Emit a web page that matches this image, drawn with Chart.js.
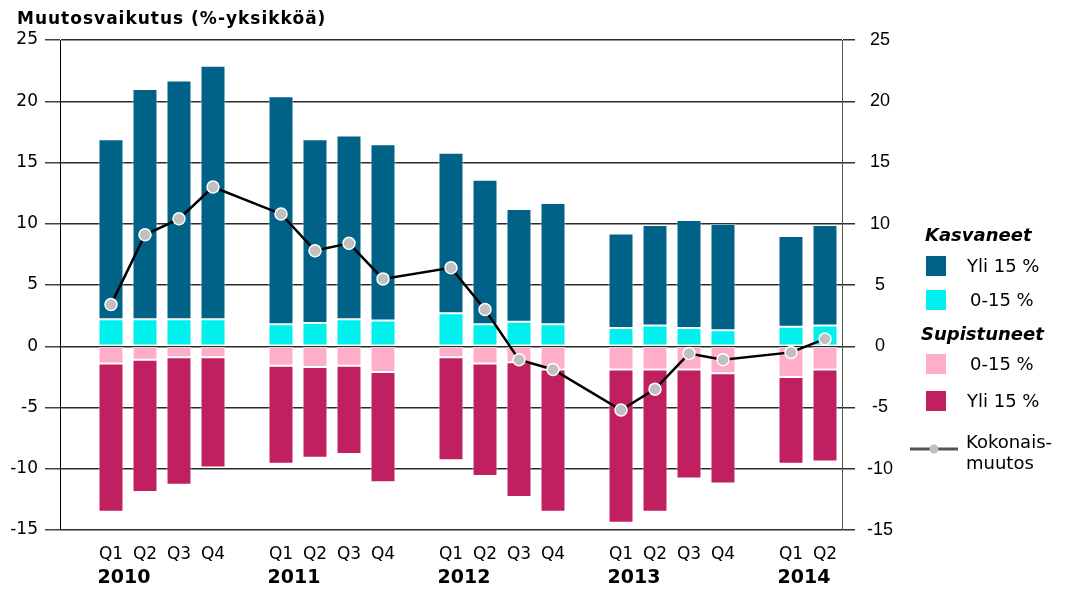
<!DOCTYPE html>
<html>
<head>
<meta charset="utf-8">
<script src="https://cdn.jsdelivr.net/npm/chart.js@4.4.0/dist/chart.umd.min.js"></script>
<style>
  html, body { margin: 0; padding: 0; background: #fff; }
</style>
</head>
<body>
<canvas id="chart" width="1067" height="590"></canvas>
<script>
// categories (empty slots are the gaps between years)
const quarters = ['', 'Q1', 'Q2', 'Q3', 'Q4', '', 'Q1', 'Q2', 'Q3', 'Q4', '', 'Q1', 'Q2', 'Q3', 'Q4', '', 'Q1', 'Q2', 'Q3', 'Q4', '', 'Q1', 'Q2']
const years = ['2010', '2011', '2012', '2013', '2014']

// Kasvaneet
const growOver15 = [null, 14.7, 18.8, 19.5, 20.7, null, 18.6, 15.0, 15.0, 14.4, null, 13.1, 11.8, 9.2, 9.9, null, 7.7, 8.2, 8.8, 8.7, null, 7.4, 8.2]
const growUnder15 = [null, 2.2, 2.2, 2.2, 2.2, null, 1.8, 1.9, 2.2, 2.1, null, 2.7, 1.8, 2.0, 1.8, null, 1.5, 1.7, 1.5, 1.3, null, 1.6, 1.7]
// Supistuneet
const shrinkUnder15 = [null, -1.4, -1.1, -0.9, -0.9, null, -1.6, -1.7, -1.6, -2.1, null, -0.9, -1.4, -1.3, -1.9, null, -1.9, -1.9, -1.9, -2.2, null, -2.5, -1.9]
const shrinkOver15 = [null, -12.1, -10.8, -10.4, -9.0, null, -8.0, -7.4, -7.2, -9.0, null, -8.4, -9.2, -11.0, -11.6, null, -12.5, -11.6, -8.9, -9.0, null, -7.1, -7.5]
// Kokonaismuutos
const totalChange = [null, 3.4, 9.1, 10.4, 13.0, null, 10.8, 7.8, 8.4, 5.5, null, 6.4, 3.0, -1.1, -1.9, null, -5.2, -3.5, -0.6, -1.1, null, -0.5, 0.6]

const axisTitle = 'Muutosvaikutus (%-yksikköä)'
const groupTitles = ['Kasvaneet', 'Supistuneet']
const lineLabel = ['Kokonais-', 'muutos']

const darkBlue = '#006287'
const cyan = '#00f0ee'
const pink = '#ffaec9'
const magenta = '#c02060'

const edge = 'rgba(255,255,255,0.6)'

function barSet(label, data, color) {
  return {
    type: 'bar',
    label: label,
    data: data,
    backgroundColor: color,
    borderColor: edge,
    borderWidth: 1,
    borderSkipped: false,
    barPercentage: 0.735,
    categoryPercentage: 1,
    stack: 's',
    yAxisID: 'y',
    order: 1
  }
}

const datasets = [
  barSet('0-15 %', growUnder15, cyan),
  barSet('Yli 15 %', growOver15, darkBlue),
  barSet('0-15 %', shrinkUnder15, pink),
  barSet('Yli 15 %', shrinkOver15, magenta),
  {
    type: 'line',
    label: 'Kokonaismuutos',
    data: totalChange,
    yAxisID: 'y1',
    borderColor: '#000',
    borderWidth: 2.5,
    pointRadius: 6,
    pointBackgroundColor: '#c0c0c0',
    pointBorderColor: '#fff',
    pointBorderWidth: 1.5,
    spanGaps: true,
    tension: 0,
    order: 0
  }
]

// title, year row and side legend
const extras = {
  id: 'extras',
  afterDraw(chart) {
    const ctx = chart.ctx
    const x = chart.scales.x
    ctx.save()
    ctx.fillStyle = '#000'
    ctx.textBaseline = 'middle'

    ctx.font = 'bold 17px "DejaVu Sans"'
    ctx.textAlign = 'left'
    ctx.letterSpacing = '1px'
    ctx.fillText(axisTitle, 17, 20)
    ctx.letterSpacing = '0px'

    // years under the quarters
    ctx.font = 'bold 19px "DejaVu Sans"'
    ctx.textAlign = 'center'
    let y = 0
    quarters.forEach((q, i) => {
      if (q === 'Q1') {
        ctx.fillText(years[y], x.getPixelForValue(i) + 13, 578)
        y++
      }
    })

    // legend
    ctx.textAlign = 'left'
    ctx.font = 'italic bold 18px "DejaVu Sans"'
    ctx.fillText(groupTitles[0], 925, 236)
    ctx.fillText(groupTitles[1], 921, 335)

    const items = [
      [datasets[1], 266],
      [datasets[0], 300],
      [datasets[2], 364],
      [datasets[3], 401]
    ]
    ctx.font = '18px "DejaVu Sans"'
    items.forEach(([ds, cy]) => {
      ctx.fillStyle = ds.backgroundColor
      ctx.fillRect(926, cy - 10, 20, 20)
      ctx.fillStyle = '#000'
      ctx.fillText(ds.label, ds.label === 'Yli 15 %' ? 967 : 970, cy + 1)
    })

    ctx.strokeStyle = '#555'
    ctx.lineWidth = 3
    ctx.beginPath()
    ctx.moveTo(910, 449)
    ctx.lineTo(958, 449)
    ctx.stroke()
    ctx.fillStyle = '#c0c0c0'
    ctx.beginPath()
    ctx.arc(934, 449, 4.5, 0, Math.PI * 2)
    ctx.fill()
    ctx.fillStyle = '#000'
    ctx.fillText(lineLabel[0], 966, 443)
    ctx.fillText(lineLabel[1], 966, 464)
    ctx.restore()
  }
}

new Chart(document.getElementById('chart'), {
  data: { labels: quarters, datasets: datasets },
  options: {
    responsive: false,
    animation: false,
    layout: { padding: { top: 40, left: 0, right: 155, bottom: 0 } },
    plugins: { legend: { display: false }, tooltip: { enabled: false } },
    scales: {
      x: {
        stacked: true,
        offset: true,
        grid: { display: false },
        border: { display: false },
        ticks: { color: '#000', font: { family: 'DejaVu Sans', size: 17 }, padding: 6, autoSkip: false, maxRotation: 0 },
        afterFit: s => { s.height = 60 }
      },
      y: {
        stacked: true,
        position: 'left',
        min: -15,
        max: 25,
        grid: { color: '#2a2a2a', lineWidth: 1.5, tickLength: 15, tickColor: '#444' },
        border: { color: '#000', width: 1 },
        ticks: { stepSize: 5, color: '#000', font: { family: 'DejaVu Sans', size: 17 }, padding: 7 },
        afterFit: s => { s.width = 60 }
      },
      y1: {
        position: 'right',
        min: -15,
        max: 25,
        grid: { drawOnChartArea: false, tickLength: 13, color: '#333', lineWidth: 1.5 },
        border: { color: '#555', width: 1 },
        ticks: { stepSize: 5, color: '#000', font: { family: 'Liberation Sans', size: 18 }, padding: 12, crossAlign: 'center' },
        afterFit: s => { s.width = 70 }
      }
    }
  },
  plugins: [extras]
})
</script>
</body>
</html>
